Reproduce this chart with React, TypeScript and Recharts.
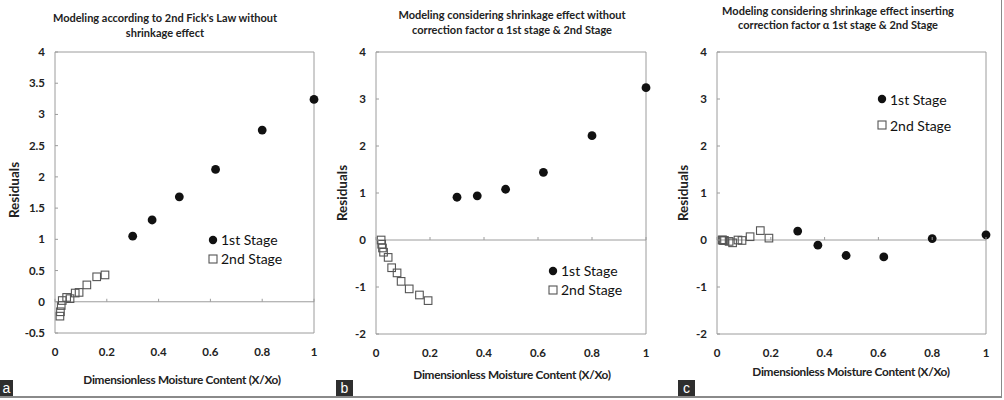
import React from "react";
import {
  ScatterChart,
  Scatter,
  XAxis,
  YAxis,
  ReferenceLine,
  ReferenceArea,
  Legend,
} from "recharts";

// dimensionless moisture content X/Xo of the measured points
const moistureFirst = [0.3, 0.375, 0.48, 0.62, 0.8, 1.0];
const moistureSecond = [0.019, 0.021, 0.024, 0.028, 0.045, 0.058, 0.078, 0.093, 0.123, 0.161, 0.193];

// residuals, 2nd Fick's law without shrinkage
const fickFirst = [1.05, 1.31, 1.68, 2.12, 2.75, 3.24];
const fickSecond = [-0.23, -0.16, -0.06, 0.02, 0.07, 0.05, 0.14, 0.15, 0.27, 0.4, 0.43];

// residuals, shrinkage without correction factor
const shrinkFirst = [0.91, 0.94, 1.08, 1.44, 2.22, 3.24];
const shrinkSecond = [0.0, -0.09, -0.17, -0.26, -0.37, -0.59, -0.7, -0.88, -1.04, -1.17, -1.29];

// residuals, shrinkage with correction factor alpha
const alphaFirst = [0.19, -0.11, -0.33, -0.36, 0.03, 0.11];
const alphaSecond = [0.0, 0.0, -0.01, -0.01, -0.03, -0.06, 0.0, -0.01, 0.07, 0.2, 0.04];

const xTicks = [0, 0.2, 0.4, 0.6, 0.8, 1];
const yTicksFick = [-0.5, 0, 0.5, 1, 1.5, 2, 2.5, 3, 3.5, 4];
const yTicksShrink = [-2, -1, 0, 1, 2, 3, 4];

const seriesNames = ["1st Stage", "2nd Stage"];
const xTitle = "Dimensionless Moisture Content (X/Xo)";
const yTitle = "Residuals";

const FONT = "Lato, 'Open Sans', sans-serif";
const TEXT = "#222";
const FRAME = "#9c9c9c";
const HEIGHT = 400;
const PLOT_TOP = 52;
const X_AXIS_H = 30;

const toPoints = (xs: number[], ys: number[]) => xs.map((x, i) => ({ x, y: ys[i] }));

const Dot = (p: any) => <circle cx={p.cx} cy={p.cy} r={4.4} fill="#111" />;
const Box = (p: any) => (
  <rect x={p.cx - 3.8} y={p.cy - 3.8} width={7.6} height={7.6} fill="none" stroke="#555" strokeWidth={1.1} />
);

type PanelProps = {
  left: number;
  width: number;
  axisW: number;
  plotRight: number;
  plotBottom: number;
  yDomain: [number, number];
  yTicks: number[];
  first: number[];
  second: number[];
  legend: { x: number; y: number; gap: number };
  title: string[];
  titleY: number;
  titleLH: number;
  titleX: number;
  xTitlePos: [number, number];
  yTitlePos: [number, number];
  letter: string;
  letterX: number;
  letterW: number;
};

const Panel = (p: PanelProps) => {
  const plotH = p.plotBottom - PLOT_TOP;
  const zeroY = PLOT_TOP + (p.yDomain[1] / (p.yDomain[1] - p.yDomain[0])) * plotH;

  const xTick = (t: any) => (
    <g>
      <line x1={t.x} x2={t.x} y1={zeroY} y2={zeroY - 3} stroke={FRAME} />
      <text x={t.x} y={t.y} dy="0.71em" textAnchor="middle" fontFamily={FONT} fontWeight={700} fontSize={11.5} fill={TEXT}>
        {t.payload.value}
      </text>
    </g>
  );
  const yTick = (t: any) => (
    <g>
      <line x1={p.axisW} x2={p.axisW + 3} y1={t.y} y2={t.y} stroke={FRAME} />
      <text x={t.x} y={t.y} dy="0.35em" textAnchor="end" fontFamily={FONT} fontWeight={700} fontSize={11.5} fill={TEXT}>
        {t.payload.value}
      </text>
    </g>
  );

  const legendContent = () => (
    <div style={{ fontFamily: FONT, fontSize: 14, color: "#111" }}>
      {seriesNames.map((name, i) => (
        <div key={name} style={{ display: "flex", alignItems: "center", height: p.legend.gap, whiteSpace: "nowrap" }}>
          <svg width={10} height={10} style={{ marginRight: 3 }}>
            {i === 0 ? (
              <circle cx={5} cy={5} r={4.2} fill="#111" />
            ) : (
              <rect x={1} y={1} width={8} height={8} fill="#fff" stroke="#555" strokeWidth={1.1} />
            )}
          </svg>
          <span>{name}</span>
        </div>
      ))}
    </div>
  );

  return (
    <div style={{ position: "absolute", left: p.left, top: 0, width: p.width, height: HEIGHT }}>
      <div
        style={{
          position: "absolute",
          left: p.titleX - 160,
          width: 320,
          top: p.titleY,
          textAlign: "center",
          fontFamily: FONT,
          fontWeight: 700,
          fontSize: 11,
          lineHeight: `${p.titleLH}px`,
          color: TEXT,
        }}
      >
        {p.title.map((line) => (
          <div key={line}>{line}</div>
        ))}
      </div>
      <ScatterChart
        width={p.width}
        height={HEIGHT}
        margin={{ top: PLOT_TOP, right: p.width - p.plotRight, left: 0, bottom: HEIGHT - p.plotBottom - X_AXIS_H }}
        style={{ fontFamily: FONT }}
      >
        <XAxis
          type="number"
          dataKey="x"
          domain={[0, 1]}
          ticks={xTicks}
          height={X_AXIS_H}
          axisLine={false}
          tickLine={false}
          tickSize={4}
          tickMargin={11}
          tick={xTick}
          interval={0}
        />
        <YAxis
          type="number"
          dataKey="y"
          domain={p.yDomain}
          ticks={p.yTicks}
          width={p.axisW}
          axisLine={false}
          tickLine={false}
          tickSize={4}
          tickMargin={6}
          tick={yTick}
          interval={0}
        />
        <ReferenceArea x1={0} x2={1} y1={p.yDomain[0]} y2={p.yDomain[1]} fill="none" stroke={FRAME} strokeWidth={1} />
        <ReferenceLine y={0} stroke={FRAME} strokeWidth={1} />
        <Legend
          layout="vertical"
          align="center"
          verticalAlign="middle"
          wrapperStyle={{ left: p.legend.x, top: p.legend.y, width: "auto", height: "auto" }}
          content={legendContent}
        />
        <Scatter name={seriesNames[0]} data={toPoints(moistureFirst, p.first)} shape={Dot} isAnimationActive={false} />
        <Scatter name={seriesNames[1]} data={toPoints(moistureSecond, p.second)} shape={Box} isAnimationActive={false} />
      </ScatterChart>
      <div
        style={{
          position: "absolute",
          left: p.yTitlePos[0],
          top: p.yTitlePos[1],
          transform: "translate(-50%, -50%) rotate(-90deg)",
          fontFamily: FONT,
          fontWeight: 700,
          fontSize: 13.5,
          color: TEXT,
          whiteSpace: "nowrap",
        }}
      >
        {yTitle}
      </div>
      <div
        style={{
          position: "absolute",
          left: p.xTitlePos[0] - 160,
          width: 320,
          top: p.xTitlePos[1] - 8,
          lineHeight: "16px",
          textAlign: "center",
          fontFamily: FONT,
          fontWeight: 700,
          fontSize: 11.8,
          letterSpacing: -0.3,
          color: TEXT,
          whiteSpace: "nowrap",
        }}
      >
        {xTitle}
      </div>
      <div
        style={{
          position: "absolute",
          left: p.letterX,
          top: 380,
          width: p.letterW,
          height: 16,
          background: "#2e2e2e",
          color: "#fff",
          fontFamily: "'Liberation Sans', Arial, sans-serif",
          fontSize: 14,
          lineHeight: "16px",
          textAlign: "center",
        }}
      >
        {p.letter}
      </div>
    </div>
  );
};

export default function App() {
  return (
    <div style={{ position: "absolute", left: 0, top: 0, width: 1004, height: HEIGHT, background: "#fff", overflow: "hidden" }}>
      <Panel
        left={0}
        width={335}
        axisW={55}
        plotRight={314}
        plotBottom={333}
        yDomain={[-0.5, 4]}
        yTicks={yTicksFick}
        first={fickFirst}
        second={fickSecond}
        legend={{ x: 208, y: 230, gap: 19 }}
        title={["Modeling according to 2nd Fick's Law without", "shrinkage effect"]}
        titleX={165}
        titleY={10}
        titleLH={15}
        xTitlePos={[182, 380]}
        yTitlePos={[14, 190]}
        letter="a"
        letterX={0}
        letterW={13}
      />
      <Panel
        left={335}
        width={333}
        axisW={41}
        plotRight={311}
        plotBottom={334}
        yDomain={[-2, 4]}
        yTicks={yTicksShrink}
        first={shrinkFirst}
        second={shrinkSecond}
        legend={{ x: 213, y: 261, gap: 19 }}
        title={["Modeling considering shrinkage effect without", "correction factor \u03b1 1st stage & 2nd Stage"]}
        titleX={177}
        titleY={7}
        titleLH={15}
        xTitlePos={[177, 375]}
        yTitlePos={[7, 193]}
        letter="b"
        letterX={1}
        letterW={17}
      />
      <Panel
        left={668}
        width={336}
        axisW={49}
        plotRight={318}
        plotBottom={334}
        yDomain={[-2, 4]}
        yTicks={yTicksShrink}
        first={alphaFirst}
        second={alphaSecond}
        legend={{ x: 209, y: 86, gap: 26 }}
        title={["Modeling considering shrinkage effect inserting", "correction factor \u03b1 1st stage & 2nd Stage"]}
        titleX={170}
        titleY={4}
        titleLH={14}
        xTitlePos={[183, 372]}
        yTitlePos={[15, 193]}
        letter="c"
        letterX={10}
        letterW={17}
      />
      <div style={{ position: "absolute", left: 0, top: 396, width: 1002, height: 1.5, background: "#8a8a8a" }} />
      <div style={{ position: "absolute", left: 1001, top: 0, width: 1, height: 397, background: "#8a8a8a" }} />
    </div>
  );
}
